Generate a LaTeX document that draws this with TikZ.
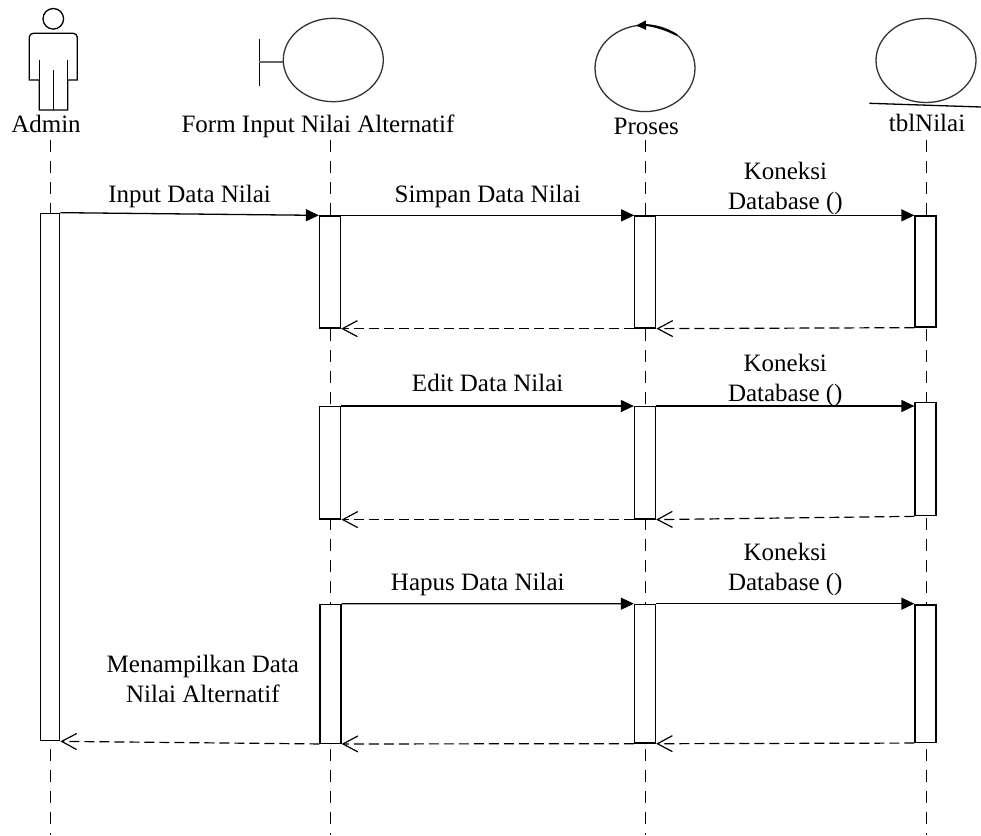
\documentclass[tikz,border=0pt]{standalone}
\usepackage{fontspec}
\setmainfont{Liberation Serif}
\usetikzlibrary{arrows.meta}

\begin{document}
\begin{tikzpicture}[x=1pt, y=-1pt, font=\fontsize{25}{30}\selectfont,
        lifeline/.style={line width=1pt, dash pattern=on 12pt off 9pt},
        actbox/.style={draw, fill=white, line width=1.3pt, minimum width=21pt, inner sep=0pt},
        msg/.style={line width=1.3pt, -{Triangle[length=13pt,width=12pt]}},
        reply/.style={line width=1.2pt, dash pattern=on 10pt off 5pt, -{Straight Barb[length=15pt,width=16pt]}},
        lbl/.style={midway, anchor=base, yshift=13pt}]
        \useasboundingbox (0,0) rectangle (981,835);
        % actor
        \draw[line width=1.3pt] (53.3,18.8) circle (10.3pt);
        \draw[line width=1.3pt] (39.3,110) -- (39.3,80) -- (29.3,80) [rounded corners=4pt]-- (29.3,33.3) -- (77.3,33.3) [sharp corners]-- (77.3,80) -- (67.7,80) -- (67.7,110) -- cycle;
        \draw[line width=1.3pt] (39.3,60) -- (39.3,80) (67.7,60) -- (67.7,80) (53.3,70) -- (53.3,110);
        % boundary
        \draw[line width=1.3pt] (259.3,39.3) -- (259.3,86);
        \draw[line width=2pt, black!60] (259.3,61.7) -- (283.3,61.7);
        \draw[line width=1.3pt, black!80] (333.3,60) ellipse (50pt and 41.7pt);
        % control
        \draw[line width=1.3pt, black!80] (645,68.3) ellipse (50pt and 43.3pt);
        \draw[line width=2pt, -{Triangle[length=10pt,width=9pt]}] (677,35) .. controls (662,27.5) and (650,25) .. (636,25.5);
        % entity
        \draw[line width=1.3pt, black!80] (926,60.5) ellipse (50pt and 42pt);
        \draw[line width=1.3pt] (869.3,103.3) -- (981,107);
        \node[anchor=base] (admin) at (46,132.7) {Admin};
        \node[anchor=base] (form) at (318,132.7) {Form Input Nilai Alternatif};
        \node[anchor=base] (proses) at (646.3,134) {Proses};
        \node[anchor=base] (tbl) at (927,131.7) {tblNilai};
        % lifelines
        \coordinate (admtop) at (50,140);   \coordinate (admbot) at (50,835);
        \coordinate (frmtop) at (330,140);  \coordinate (frmbot) at (330,835);
        \coordinate (prstop) at (645.5,140); \coordinate (prsbot) at (645.5,835);
        \coordinate (tbntop) at (926,140);  \coordinate (tbnbot) at (926,835);
        \draw[lifeline] (admtop) -- (admbot);
        \draw[lifeline] (frmtop) -- (frmbot);
        \draw[lifeline] (prstop) -- (prsbot);
        \draw[lifeline] (tbntop) -- (tbnbot);
        % activations
        \node[actbox, minimum width=19pt, minimum height=527.4pt] (a0) at (50.2,477) {};
        \node[actbox, minimum height=112pt] (f1) at (330,272) {};
        \node[actbox, minimum height=112pt] (p1) at (645.3,272) {};
        \node[actbox, minimum height=111pt] (t1) at (925.5,271.5) {};
        \node[actbox, minimum height=112.3pt] (f2) at (330.3,462.8) {};
        \node[actbox, minimum height=112.3pt] (p2) at (645,462.8) {};
        \node[actbox, minimum height=113pt] (t2) at (925.5,459.2) {};
        \node[actbox, minimum height=139pt] (f3) at (330.5,673.8) {};
        \node[actbox, minimum height=138.7pt] (p3) at (645,673.7) {};
        \node[actbox, minimum height=137.4pt] (t3) at (925.5,673.7) {};
        % messages
        \draw[msg] (a0.north east) --node[lbl, yshift=-1.5pt]{Input Data Nilai} (f1.north west);
        \draw[msg] (f1.north east) --node[lbl]{Simpan Data Nilai} (p1.north west);
        \draw[msg] (p1.north east) --node[lbl, align=center, yshift=-7pt]{Koneksi\\Database ()} (p1.north east -| t1.west);
        \draw[reply] (t1.south west) -- (p1.south east);
        \draw[reply] (p1.south west) -- (f1.south east);
        \draw[msg] (f2.north east) --node[lbl, yshift=2pt]{Edit Data Nilai} (p2.north west);
        \draw[msg] (p2.north east) --node[lbl, align=center, yshift=-8pt]{Koneksi\\Database ()} (p2.north east -| t2.west);
        \draw[reply] (t2.south west) -- (p2.south east);
        \draw[reply] (p2.south west) -- (f2.south east);
        \draw[msg] (f3.north east) --node[lbl, xshift=-10pt]{Hapus Data Nilai} (p3.north west);
        \draw[msg] (p3.north east) --node[lbl, align=center]{Koneksi\\Database ()} (p3.north east -| t3.west);
        \draw[reply] (t3.south west) -- (p3.south east);
        \draw[reply] (p3.south west) -- (f3.south east);
        \draw[reply] (f3.south west) --node[lbl, align=center, xshift=13pt, yshift=27pt]{Menampilkan Data\\Nilai Alternatif} (a0.south east);
\end{tikzpicture}
\end{document}
